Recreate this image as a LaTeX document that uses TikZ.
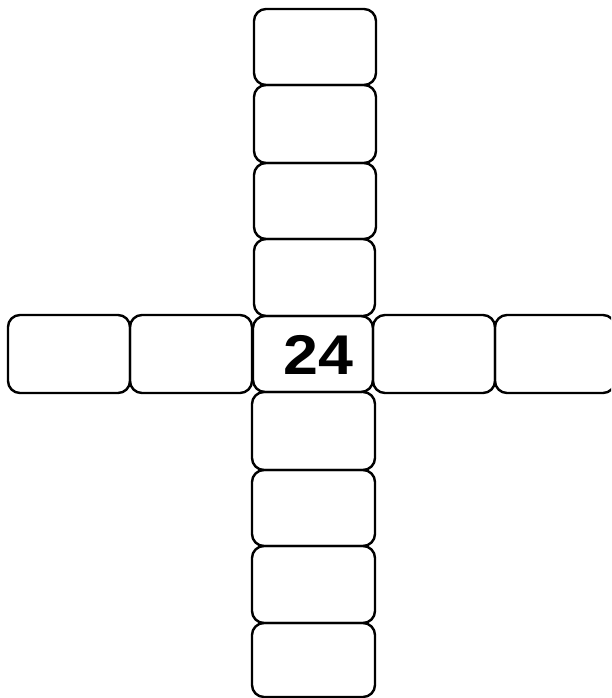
\documentclass[tikz,border=0pt]{standalone}
\usepackage{fontspec}
\setmainfont{Liberation Sans}
\begin{document}
\begin{tikzpicture}[x=1pt,y=1pt,
  cell/.style={draw=black, line width=2.4pt, rounded corners=12pt, fill=none,
    inner sep=0pt, outer sep=0pt, anchor=north west, rectangle}]
\useasboundingbox (0,0) rectangle (611,-698);
\clip (0,0) rectangle (611,-698);
% vertical column
\node[cell, minimum width=122pt, minimum height=76pt] (v1) at (254,-9) {};
\node[cell, minimum width=122pt, minimum height=78pt] (v2) at (254,-85) {};
\node[cell, minimum width=122pt, minimum height=76pt] (v3) at (254,-163) {};
\node[cell, minimum width=121pt, minimum height=77pt] (v4) at (254,-239) {};
\node[cell, minimum width=123pt, minimum height=78pt] (v5) at (252,-392) {};
\node[cell, minimum width=123pt, minimum height=76pt] (v6) at (252,-470) {};
\node[cell, minimum width=123pt, minimum height=77pt] (v7) at (252,-546) {};
\node[cell, minimum width=123pt, minimum height=74pt] (v8) at (252,-623) {};
% horizontal row
\node[cell, minimum width=122pt, minimum height=78pt] (h1) at (8,-315) {};
\node[cell, minimum width=122pt, minimum height=78pt] (h2) at (130,-315) {};
\node[cell, minimum width=122pt, minimum height=78pt] (h3) at (373,-315) {};
\node[cell, minimum width=120pt, minimum height=78pt] (h4) at (495,-315) {};
% centre
\node[cell, minimum width=120pt, minimum height=76pt] (c) at (253,-316) {};
\node[font=\bfseries\fontsize{56}{60}\selectfont, inner sep=0pt] (t) at (318.5,-355) {\scalebox{1.12}[1]{24}};
\end{tikzpicture}
\end{document}
